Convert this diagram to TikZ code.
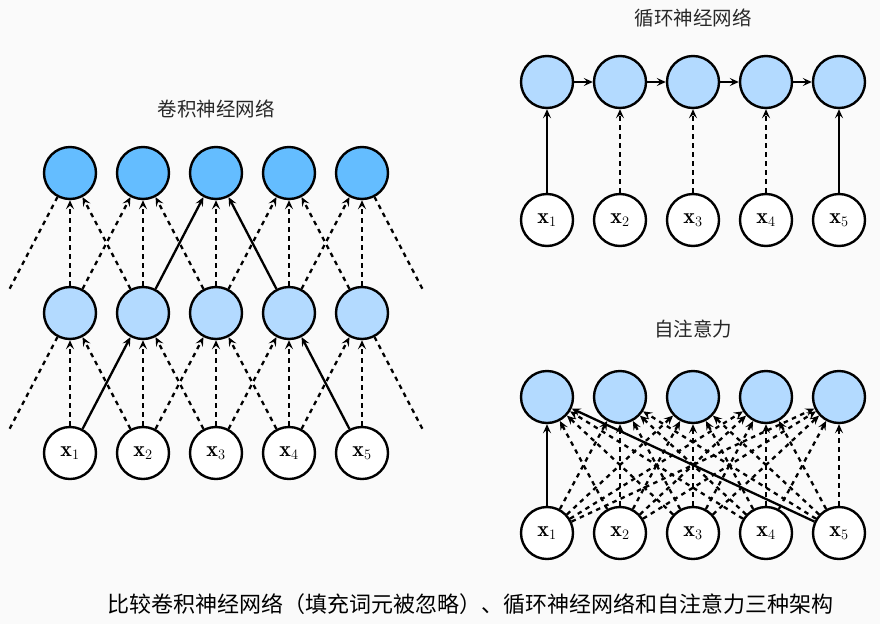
\documentclass[tikz,border=0pt]{standalone}
\usepackage{fontspec}
\newfontfamily\cjk{Noto Sans CJK SC}
\usetikzlibrary{arrows.meta}
\definecolor{bgc}{RGB}{250,250,250}
\definecolor{deepblue}{RGB}{100,189,255}
\definecolor{paleblue}{RGB}{179,218,255}
\definecolor{titlec}{RGB}{40,40,40}
\tikzset{
  unit/.style={circle,draw=black,line width=2.4pt,minimum size=52pt,inner sep=0pt},
  outunit/.style={unit,fill=deepblue},
  hidunit/.style={unit,fill=paleblue},
  inunit/.style={unit,fill=white,font=\fontsize{22}{22}\selectfont},
  ghost/.style={circle,minimum size=54.4pt,inner sep=0pt},
  link/.style={line width=2.3pt,-{Stealth[length=9pt,width=8pt,inset=3.5pt]}},
  weak/.style={link,dash pattern=on 4.5pt off 4.5pt},
  tail/.style={line width=2.3pt,dash pattern=on 4.5pt off 4.5pt},
  heading/.style={font=\cjk\fontsize{19.5}{19.5}\selectfont,text=titlec},
}
\begin{document}
\begin{tikzpicture}[x=1pt,y=-1pt]
\fill[bgc] (0,0) rectangle (880,624);
\useasboundingbox (0,0) rectangle (880,624);

% ---------- convolutional network ----------
\node[heading] (cnnT) at (216,109) {卷积神经网络};
\foreach \i in {1,...,5} {
  \pgfmathsetmacro\cx{70+73*(\i-1)}
  \node[outunit] (c\i) at (\cx,173) {};
  \node[hidunit] (m\i) at (\cx,313) {};
  \node[inunit]  (i\i) at (\cx,453) {$\mathbf{x}_{\i}$};
}
% padding positions just outside the sequence
\node[ghost] (m0) at (-3,313) {};
\node[ghost] (m6) at (435,313) {};
\node[ghost] (i0) at (-3,453) {};
\node[ghost] (i6) at (435,453) {};

\draw[tail] (m0) -- (c1);
\draw[tail] (m6) -- (c5);
\draw[tail] (i0) -- (m1);
\draw[tail] (i6) -- (m5);

\foreach \i in {1,...,5} {
  \draw[weak] (m\i) -- (c\i);
  \draw[weak] (i\i) -- (m\i);
}
% neighbouring connections, second layer
\draw[weak] (m1) -- (c2);
\draw[weak] (m2) -- (c1);
\draw[link] (m2) -- (c3);
\draw[weak] (m3) -- (c2);
\draw[weak] (m3) -- (c4);
\draw[link] (m4) -- (c3);
\draw[weak] (m4) -- (c5);
\draw[weak] (m5) -- (c4);
% neighbouring connections, first layer
\draw[link] (i1) -- (m2);
\draw[weak] (i2) -- (m1);
\draw[weak] (i2) -- (m3);
\draw[weak] (i3) -- (m2);
\draw[weak] (i3) -- (m4);
\draw[weak] (i4) -- (m3);
\draw[weak] (i4) -- (m5);
\draw[link] (i5) -- (m4);

% ---------- recurrent network ----------
\node[heading] (rnnT) at (693,18) {循环神经网络};
\foreach \i in {1,...,5} {
  \pgfmathsetmacro\cx{547+73*(\i-1)}
  \node[hidunit] (r\i) at (\cx,82) {};
  \node[inunit]  (ri\i) at (\cx,220) {$\mathbf{x}_{\i}$};
}
\foreach \i/\j in {1/2,2/3,3/4,4/5} \draw[link] (r\i) -- (r\j);
\draw[link] (ri1) -- (r1);
\draw[weak] (ri2) -- (r2);
\draw[weak] (ri3) -- (r3);
\draw[weak] (ri4) -- (r4);
\draw[link] (ri5) -- (r5);

% ---------- self-attention ----------
\node[heading] (attT) at (693,329) {自注意力};
\foreach \i in {1,...,5} {
  \pgfmathsetmacro\cx{547+73*(\i-1)}
  \node[hidunit] (a\i) at (\cx,397) {};
  \node[inunit]  (ai\i) at (\cx,533) {$\mathbf{x}_{\i}$};
}
\foreach \i in {1,...,5} {
  \foreach \j in {1,...,5} {
    \ifnum\i=1 \ifnum\j=1 \else \draw[weak] (ai\i) -- (a\j); \fi
    \else \ifnum\i=5 \ifnum\j=1 \else \draw[weak] (ai\i) -- (a\j); \fi
    \else \draw[weak] (ai\i) -- (a\j); \fi \fi
  }
}
\draw[link] (ai1) -- (a1);
\draw[link] (ai5) -- (a1);

% ---------- caption ----------
\node[font=\cjk\fontsize{22}{22}\selectfont,text=black] (cap) at (470,604)
  {比较卷积神经网络（填充词元被忽略）、循环神经网络和自注意力三种架构};
\end{tikzpicture}
\end{document}
